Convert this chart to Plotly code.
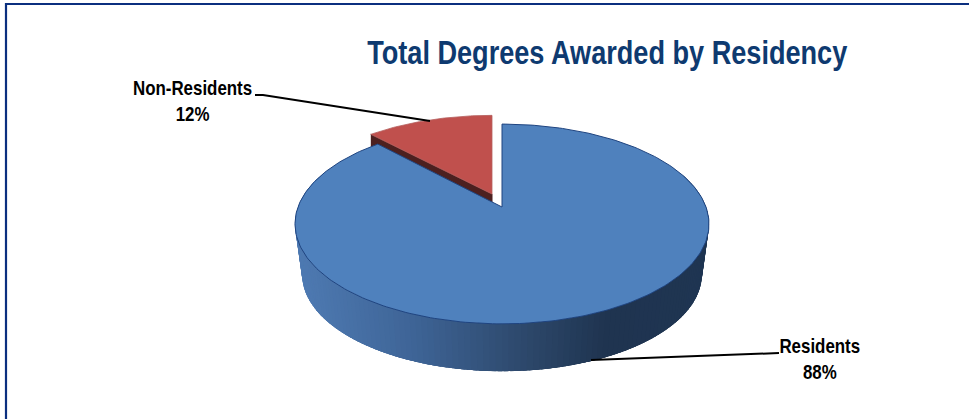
import numpy as np
import plotly.graph_objects as go

categories = ["Residents", "Non-Residents"]
shares = [88, 12]
title_text = "Total Degrees Awarded by Residency"

BLUE, RED, RED_DARK = "#4f81bd", "#c0504d", "#4c2020"
EDGE = "#1f4480"
FONT = "Liberation Sans, Arial, sans-serif"
W, H = 969, 419
P = 0.17


def project(theta_deg, cx, cy, k, h, r=1.0):
    t = np.radians(theta_deg)
    x, y = r * np.sin(t), r * np.cos(t)
    d = 1 + P * y
    return cx + k * x / d, cy - h * y / d


def hex_lerp(stops, xv):
    xs = [s[0] for s in stops]
    rgb = [np.interp(xv, xs, [s[1][i] for s in stops]) for i in range(3)]
    return "rgb(%d,%d,%d)" % tuple(int(round(c)) for c in rgb)


def poly(xs, ys, fill, line=None, width=1.0):
    return go.Scatter(x=list(xs), y=list(ys), mode="lines", fill="toself",
                      fillcolor=fill, line=dict(color=line or fill, width=width),
                      hoverinfo="skip", showlegend=False)


fig = go.Figure()
total = sum(shares)
blue_sweep = 360 * shares[0] / total

# Geometry of the tilted disc
TOP = dict(cx=502, cy=207, k=204, h=97)
BOT = dict(cx=502, cy=258, k=197, h=94)
RED_TOP = dict(cx=492, cy=194, k=199, h=92)
RED_BOT = dict(cx=492, cy=236, k=199, h=92)

# Non-resident slice: cut wall, then top face
a_red = project(blue_sweep, **RED_TOP)
b_red = project(blue_sweep, **RED_BOT)
fig.add_trace(poly([a_red[0], RED_TOP["cx"], RED_TOP["cx"], b_red[0]],
                   [a_red[1], RED_TOP["cy"], RED_BOT["cy"], b_red[1]], RED_DARK))
th = np.linspace(blue_sweep, 360, 60)
rx, ry = project(th, **RED_TOP)
fig.add_trace(poly(np.r_[RED_TOP["cx"], rx, RED_TOP["cx"]],
                   np.r_[RED_TOP["cy"], ry, RED_TOP["cy"]], RED, line="#b5605e", width=0.8))

# Front wall of the resident slice, shaded left to right (overlapping bands)
stops = [(296, (78, 122, 178)), (400, (62, 100, 150)), (500, (46, 74, 110)),
         (590, (31, 52, 80)), (710, (31, 53, 82))]
angles = np.arange(70, 291, 1.5)
for a0 in angles:
    a1 = a0 + 1.5
    a2 = a0 - 4.0 if a0 - 4.0 >= 70 else 70
    x0, y0 = project(a2, **TOP)
    x1, y1 = project(a1, **TOP)
    x2, y2 = project(a1, **BOT)
    x3, y3 = project(a2, **BOT)
    col = hex_lerp(stops, (project(a0, **TOP)[0] + project(a1, **BOT)[0]) / 2)
    fig.add_trace(go.Scatter(x=[x0, x1, x2, x3, x0], y=[y0, y1, y2, y3, y0], mode="lines",
                             fill="toself", fillcolor=col, line=dict(width=0),
                             hoverinfo="skip", showlegend=False))

# Resident slice top face
th = np.linspace(0, blue_sweep, 300)
bx, by = project(th, **TOP)
fig.add_trace(poly(np.r_[TOP["cx"], bx, TOP["cx"]],
                   np.r_[TOP["cy"], by, TOP["cy"]], BLUE, line=EDGE, width=1.0))

# Leader lines
fig.add_trace(go.Scatter(x=[255, 263, 430], y=[95, 95, 121], mode="lines",
                         line=dict(color="#000000", width=2), hoverinfo="skip", showlegend=False))
fig.add_trace(go.Scatter(x=[591, 779], y=[360, 353], mode="lines",
                         line=dict(color="#000000", width=2), hoverinfo="skip", showlegend=False))

# Frame
fig.add_trace(go.Scatter(x=[6, 6, 969], y=[419, 4, 4], mode="lines",
                         line=dict(color="#0b2f7f", width=2.2), hoverinfo="skip", showlegend=False))

ann = [
    dict(x=192, y=101, text=f"{categories[1]}<br>{shares[1]}%"),
    dict(x=820, y=359, text=f"{categories[0]}<br>{shares[0]}%"),
]
for a in ann:
    fig.add_annotation(x=a["x"], y=a["y"], text=a["text"], showarrow=False, align="center",
                       font=dict(family=FONT, size=20, color="#000000", weight="bold"))
fig.add_annotation(x=607, y=52, text=title_text, showarrow=False,
                   font=dict(family=FONT, size=33, color="#0e3a70", weight="bold"))

fig.update_layout(width=W, height=H, margin=dict(l=0, r=0, t=0, b=0), autosize=False,
                  paper_bgcolor="white", plot_bgcolor="white", showlegend=False,
                  xaxis=dict(range=[0, W], visible=False, fixedrange=True),
                  yaxis=dict(range=[H, 0], visible=False, fixedrange=True))

# No narrow face is installed, so the bold text is condensed horizontally around its centre.
post = """
document.body.style.margin='0';
document.body.style.overflow='hidden';
function condense(){
  document.querySelectorAll('.annotation-text').forEach(function(el){
    var isTitle = el.textContent.indexOf('Total') === 0;
    el.style.transformBox='fill-box';
    el.style.transformOrigin='center';
    el.style.transform='scaleX(' + (isTitle ? 0.822 : 0.845) + ')';
  });
}
condense();
"""
fig.write_html("out.html", config=dict(displayModeBar=False), post_script=post)
